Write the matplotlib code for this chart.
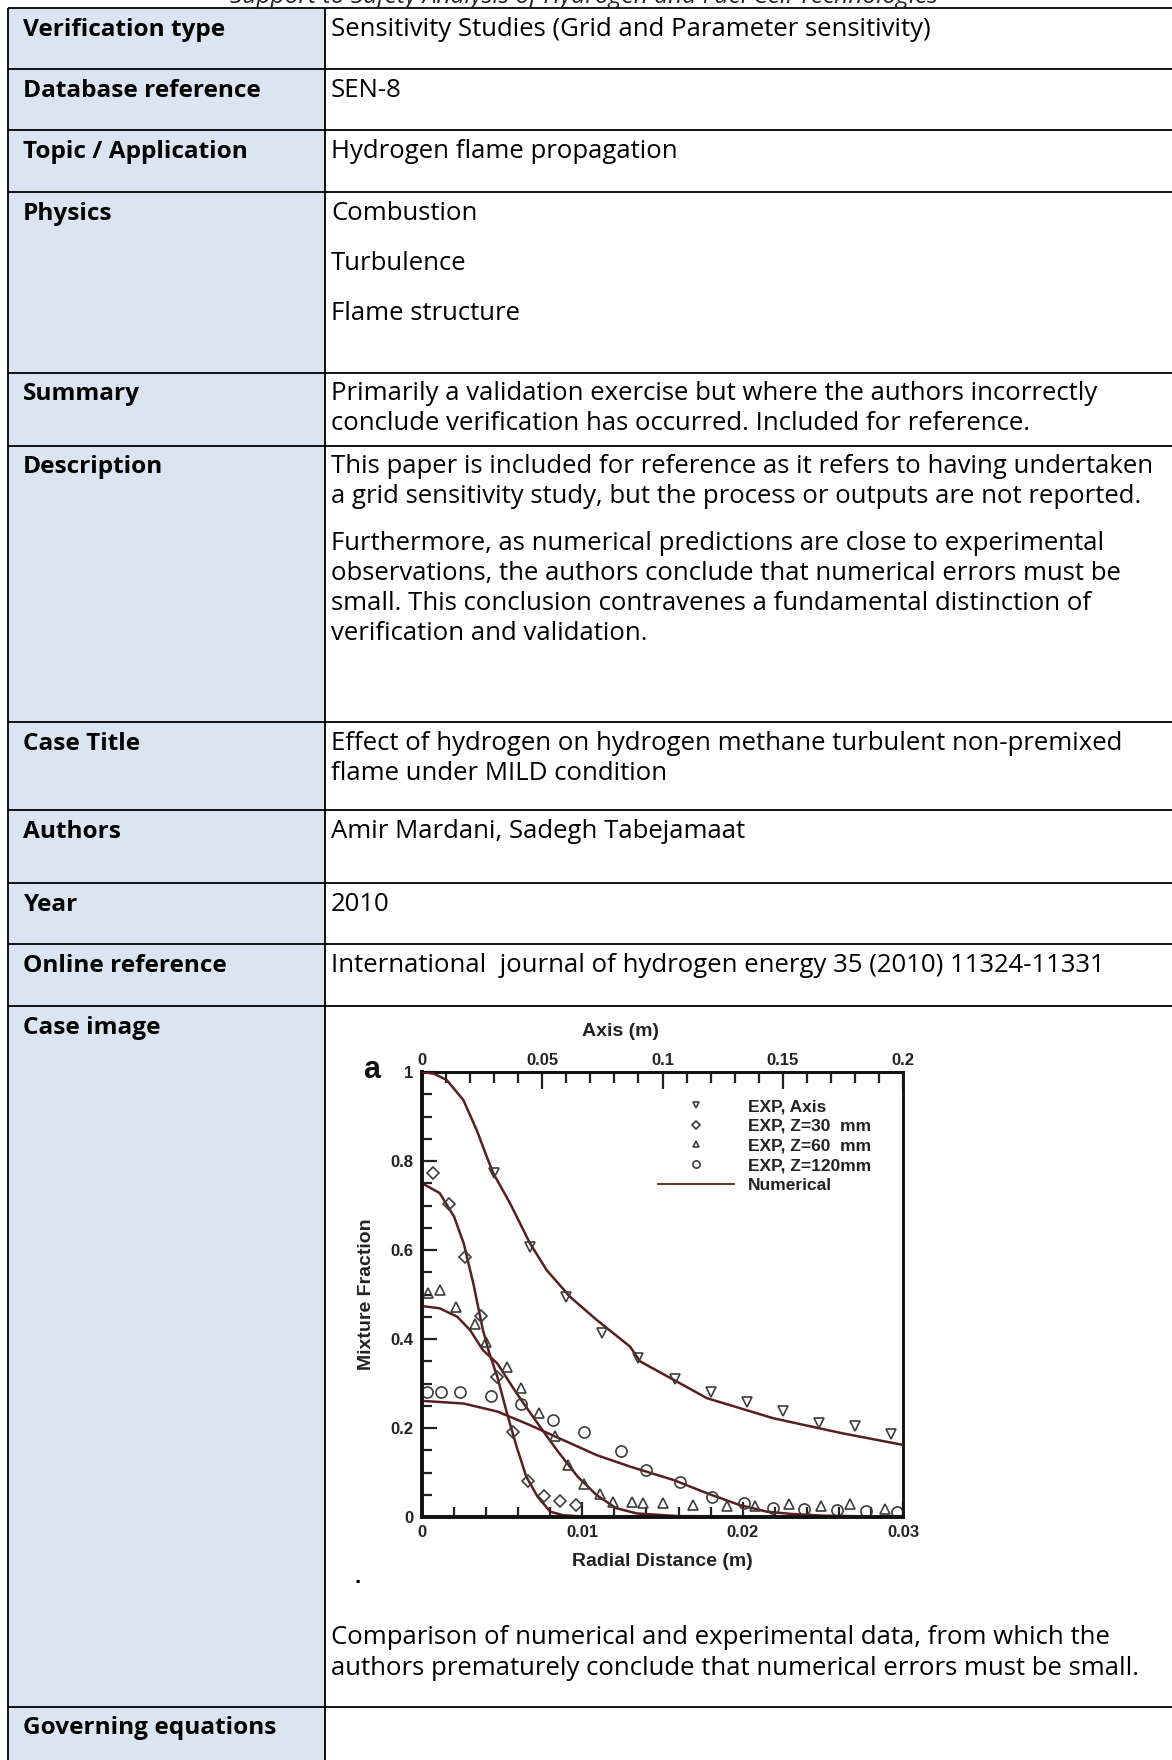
import matplotlib
matplotlib.use('Agg')
import matplotlib.pyplot as plt
from matplotlib.ticker import MultipleLocator, FuncFormatter
from matplotlib.lines import Line2D

# ---------------- data ----------------
axis_exp_x = [0.03, 0.045, 0.06, 0.075, 0.09, 0.105, 0.12, 0.135, 0.15, 0.165, 0.18, 0.195]
axis_exp_y = [0.773, 0.607, 0.494, 0.413, 0.357, 0.310, 0.281, 0.258, 0.238, 0.211, 0.204, 0.187]
axis_num_x = [0, 0.005, 0.0103, 0.0172, 0.0227, 0.0269, 0.0297, 0.0366, 0.0449, 0.0518,
              0.0615, 0.0726, 0.0865, 0.0906, 0.1185, 0.146, 0.174, 0.2]
axis_num_y = [1.0, 0.996, 0.982, 0.937, 0.870, 0.810, 0.772, 0.705, 0.615, 0.555,
              0.495, 0.443, 0.383, 0.350, 0.267, 0.222, 0.189, 0.162]

z30_exp_x = [0.0007, 0.0017, 0.0027, 0.0037, 0.0047, 0.0057, 0.0066, 0.0076, 0.0086, 0.0096]
z30_exp_y = [0.772, 0.703, 0.584, 0.452, 0.314, 0.192, 0.082, 0.047, 0.035, 0.026]
z30_num_x = [0, 0.0011, 0.002, 0.0026, 0.0032, 0.0038, 0.0042, 0.0047, 0.0053, 0.0059,
             0.0065, 0.0072, 0.008, 0.0088, 0.01, 0.03]
z30_num_y = [0.75, 0.728, 0.675, 0.615, 0.525, 0.420, 0.368, 0.315, 0.233, 0.158,
             0.091, 0.046, 0.012, 0.004, 0.001, 0.0]

z60_exp_x = [0.0004, 0.0011, 0.0021, 0.0033, 0.004, 0.0053, 0.0062, 0.0073, 0.0083, 0.0091,
             0.0101, 0.0111, 0.0119, 0.0131, 0.0138, 0.015, 0.0169, 0.019, 0.0208, 0.0229,
             0.0249, 0.0267, 0.0289]
z60_exp_y = [0.503, 0.510, 0.473, 0.434, 0.394, 0.338, 0.289, 0.234, 0.183, 0.117,
             0.074, 0.052, 0.034, 0.033, 0.031, 0.031, 0.027, 0.025, 0.025, 0.029,
             0.025, 0.029, 0.017]
z60_num_x = [0, 0.0011, 0.0022, 0.003, 0.0038, 0.0047, 0.0059, 0.0072, 0.0084, 0.0097,
             0.0109, 0.0121, 0.0134, 0.016, 0.03]
z60_num_y = [0.474, 0.469, 0.450, 0.420, 0.375, 0.345, 0.278, 0.211, 0.151, 0.091,
             0.049, 0.020, 0.008, 0.002, 0.0]

z120_exp_x = [0.0003, 0.0012, 0.0024, 0.0043, 0.0062, 0.0082, 0.0101, 0.0124, 0.014, 0.0161,
              0.0181, 0.0201, 0.0219, 0.0238, 0.0259, 0.0277, 0.0296]
z120_exp_y = [0.282, 0.280, 0.280, 0.272, 0.254, 0.218, 0.192, 0.149, 0.106, 0.079,
              0.046, 0.031, 0.020, 0.017, 0.016, 0.013, 0.012]
z120_num_x = [0, 0.0026, 0.0047, 0.0067, 0.0088, 0.0109, 0.013, 0.0157, 0.0178, 0.0198,
              0.0215, 0.023, 0.025, 0.03]
z120_num_y = [0.261, 0.255, 0.237, 0.207, 0.173, 0.139, 0.113, 0.083, 0.053, 0.027,
              0.012, 0.007, 0.003, 0.0]

legend_labels = ["EXP, Axis", "EXP, Z=30  mm", "EXP, Z=60  mm", "EXP, Z=120mm", "Numerical"]
bottom_ticks = [0, 0.01, 0.02, 0.03]
top_ticks = [0, 0.05, 0.1, 0.15, 0.2]
y_ticks = [0, 0.2, 0.4, 0.6, 0.8, 1]

# table content
row_labels = ["Verification type", "Database reference", "Topic / Application", "Physics",
              "Summary", "Description", "Case Title", "Authors", "Year", "Online reference",
              "Case image", "Governing equations"]
row_texts = [
    ["Sensitivity Studies (Grid and Parameter sensitivity)"],
    ["SEN-8"],
    ["Hydrogen flame propagation"],
    ["Combustion", "Turbulence", "Flame structure"],
    ["Primarily a validation exercise but where the authors incorrectly",
     "conclude verification has occurred. Included for reference."],
    ["This paper is included for reference as it refers to having undertaken",
     "a grid sensitivity study, but the process or outputs are not reported.",
     "Furthermore, as numerical predictions are close to experimental",
     "observations, the authors conclude that numerical errors must be",
     "small. This conclusion contravenes a fundamental distinction of",
     "verification and validation."],
    ["Effect of hydrogen on hydrogen methane turbulent non-premixed",
     "flame under MILD condition"],
    ["Amir Mardani, Sadegh Tabejamaat"],
    ["2010"],
    ["International  journal of hydrogen energy 35 (2010) 11324-11331"],
    ["Comparison of numerical and experimental data, from which the",
     "authors prematurely conclude that numerical errors must be small."],
    [],
]

# ---------------- layout (pixels) ----------------
W, H = 1172, 1760
row_tops = [8, 69, 130, 192, 373, 446, 722, 810, 883, 944, 1006, 1707]
label_base = [36, 97, 158, 220, 400, 473, 750, 838, 911, 972, 1034, 1734]
text_base = [[36], [97], [158], [220, 270, 320], [400, 430],
             [473, 503, 550, 580, 610, 640], [750, 780], [838], [911], [972],
             [1644, 1675], []]
x_left, x_div = 8, 325

fig = plt.figure(figsize=(W / 100, H / 100), dpi=100)
renderer = fig.canvas.get_renderer()
TFONT = ['Open Sans', 'DejaVu Sans']


def fit_size(samples, weight):
    sizes = []
    for txt, target in samples:
        t = fig.text(0, 0, txt, family=TFONT, fontweight=weight, fontsize=15)
        w = t.get_window_extent(renderer).width
        t.remove()
        sizes.append(15 * target / w)
    return sum(sizes) / len(sizes)


fs_reg = fit_size([("Sensitivity Studies (Grid and Parameter sensitivity)", 612),
                   ("Primarily a validation exercise but where the authors incorrectly", 750),
                   ("This paper is included for reference as it refers to having undertaken", 826)],
                  'normal')
fs_bold = fit_size([("Verification type", 202), ("Database reference", 237),
                    ("Governing equations", 254)], 'bold')

bg = fig.add_axes([0, 0, 1, 1])
bg.set_xlim(0, W)
bg.set_ylim(H, 0)
bg.axis('off')

bg.add_patch(plt.Rectangle((x_left, row_tops[0]), x_div - x_left, H - row_tops[0],
                           facecolor='#dbe5f1', edgecolor='none', zorder=0))
for yt in row_tops:
    bg.plot([x_left, W], [yt, yt], color='black', lw=1.3, zorder=2, solid_capstyle='butt')
for xv in (x_left, x_div):
    bg.plot([xv, xv], [row_tops[0], H], color='black', lw=1.3, zorder=2, solid_capstyle='butt')

for lab, yb in zip(row_labels, label_base):
    bg.text(23, yb, lab, family=TFONT, fontweight='bold', fontsize=fs_bold, va='baseline',
            ha='left', color='black')
for lines, ybs in zip(row_texts, text_base):
    for ln, yb in zip(lines, ybs):
        bg.text(331, yb, ln, family=TFONT, fontsize=fs_reg, va='baseline', ha='left',
                color='black')

# header of the page, cut by the top edge as in the reference
bg.text(584, 3, "Support to Safety Analysis of Hydrogen and Fuel Cell Technologies",
        family=TFONT, style='italic', fontsize=fs_reg * 0.95, va='baseline', ha='center',
        color='#222222')
bg.text(358, 1583, ".", family=['Liberation Sans'], fontweight='bold', fontsize=16,
        va='baseline', ha='center')

# ---------------- chart ----------------
CF = ['Liberation Sans', 'DejaVu Sans']
ax_l, ax_r, ax_t, ax_b = 422, 903, 1072, 1517
ax = fig.add_axes([ax_l / W, 1 - ax_b / H, (ax_r - ax_l) / W, (ax_b - ax_t) / H])
ax.set_facecolor('none')
ax.set_xlim(0, 0.03)
ax.set_ylim(0, 1)
ax2 = ax.twiny()
ax2.set_xlim(0, 0.2)

lc = '#5a1e1e'
mc = '#3c3c3c'
mkw = dict(linestyle='none', markerfacecolor='none', markeredgecolor=mc, markeredgewidth=1.2,
           clip_on=False, zorder=4)

ax.plot(z30_num_x, z30_num_y, color=lc, lw=1.8, zorder=3)
ax.plot(z60_num_x, z60_num_y, color=lc, lw=1.8, zorder=3)
ax.plot(z120_num_x, z120_num_y, color=lc, lw=1.8, zorder=3)
ax2.plot(axis_num_x, axis_num_y, color=lc, lw=1.8, zorder=3)

h_axis, = ax2.plot(axis_exp_x, axis_exp_y, marker='v', markersize=7.5, **mkw)
h30, = ax.plot(z30_exp_x, z30_exp_y, marker='D', markersize=6.3, **mkw)
h60, = ax.plot(z60_exp_x, z60_exp_y, marker='^', markersize=7.5, **mkw)
h120, = ax.plot(z120_exp_x, z120_exp_y, marker='o', markersize=8, **mkw)
h_num = Line2D([], [], color=lc, lw=1.3)

fmt = FuncFormatter(lambda v, p: ('%g' % v))
TK = 12

ax.set_xticks(bottom_ticks)
ax.set_yticks(y_ticks)
ax.xaxis.set_major_formatter(fmt)
ax.yaxis.set_major_formatter(fmt)
ax.xaxis.set_minor_locator(MultipleLocator(0.002))
ax.yaxis.set_minor_locator(MultipleLocator(0.05))
ax.tick_params(axis='both', which='both', direction='in', top=False, right=False, width=1.6,
               colors='#222222')
ax.tick_params(axis='both', which='major', length=11)
ax.tick_params(axis='both', which='minor', length=7)
ax.tick_params(axis='x', pad=6)
ax.tick_params(axis='y', pad=6)

ax2.set_xticks(top_ticks)
ax2.xaxis.set_major_formatter(fmt)
ax2.xaxis.set_minor_locator(MultipleLocator(0.01))
ax2.tick_params(axis='x', which='both', direction='in', width=1.6, colors='#222222', pad=3)
ax2.tick_params(axis='x', which='major', length=12)
ax2.tick_params(axis='x', which='minor', length=8)

for a in (ax, ax2):
    for lbl in a.get_xticklabels() + a.get_yticklabels():
        lbl.set_fontfamily(CF)
        lbl.set_fontweight('bold')
        lbl.set_fontsize(TK)
        lbl.set_color('#222222')

for a in (ax, ax2):
    a.spines['left'].set_linewidth(2.6)
    a.spines['bottom'].set_linewidth(2.6)
    a.spines['top'].set_linewidth(2.0)
    a.spines['right'].set_linewidth(1.8)
    for s in a.spines.values():
        s.set_color('#111111')

ax.set_xlabel("Radial Distance (m)", family=CF, fontweight='bold', fontsize=14,
              labelpad=9, color='#222222')
ax.set_ylabel("Mixture Fraction", family=CF, fontweight='bold', fontsize=14,
              labelpad=11, color='#222222')
bg.text(621, 1031, "Axis (m)", family=CF, fontweight='bold', fontsize=14, ha='center',
        va='center', color='#222222')
bg.text(372, 1070, "a", family=CF, fontweight='bold', fontsize=22, ha='center',
        va='center', color='#111111')

leg = ax2.legend([h_axis, h30, h60, h120, h_num], legend_labels, loc='upper left',
                 bbox_to_anchor=((658 - ax_l) / (ax_r - ax_l), (ax_b - 1099) / (ax_b - ax_t)),
                 frameon=False, borderpad=0, borderaxespad=0, labelspacing=0.26,
                 handlelength=4.4, handletextpad=0.8, numpoints=1, markerscale=0.65,
                 prop=dict(family=CF, weight='bold', size=12.5))
for t in leg.get_texts():
    t.set_color('#222222')

fig.savefig('out.png', dpi=100)
